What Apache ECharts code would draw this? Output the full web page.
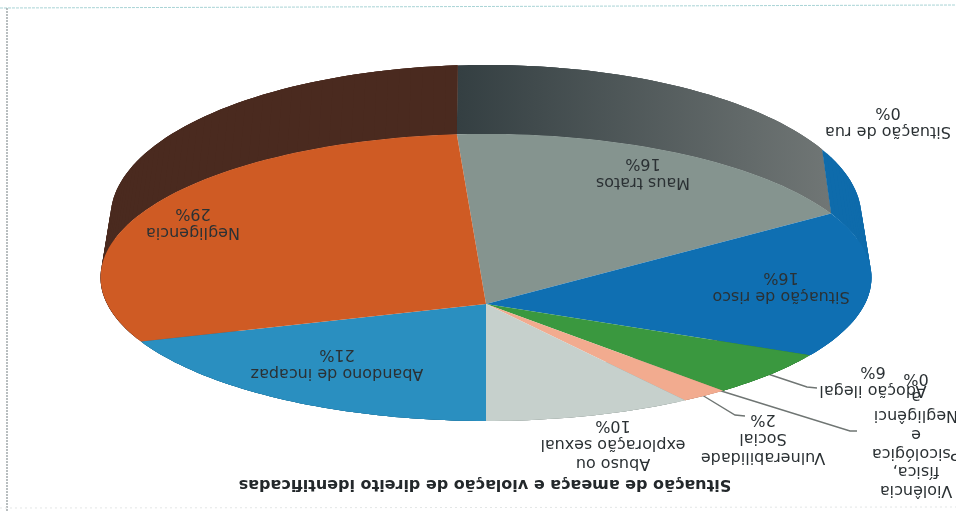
<!DOCTYPE html>
<html>
<head>
<meta charset="utf-8">
<style>
  html, body { margin: 0; padding: 0; background: #fff; }
  #main { width: 956px; height: 511px; filter: blur(0.4px); }
</style>
<script src="https://cdn.jsdelivr.net/npm/echarts@6/dist/echarts.min.js"></script>
</head>
<body>
<div id="main"></div>
<script>
// dados, na ordem em que as fatias aparecem
var categories = [
  'Maus tratos',
  'Situação de risco',
  'Adoção ilegal',
  'Violência física, Psicológica e Negligência',
  'Vulnerabilidade Social',
  'Abuso ou exploração sexual',
  'Abandono de incapaz',
  'Negligencia',
  'Situação de rua'
]
// tamanho das fatias estimado no desenho; os rotulos impressos ficam em percentLabels
var values = [16.1, 16.4, 6, 0, 2.2, 10.3, 20.4, 28.6, 0]
var percentLabels = ['16%', '16%', '6%', '0%', '2%', '10%', '21%', '29%', '0%']
var labelNames = [
  'Maus tratos',
  'Situação de risco',
  'Adoção ilegal',
  'Violência\nfísica,\nPsicológica\ne\nNegligênci\na',
  'Vulnerabilidade\nSocial',
  'Abuso ou\nexploração sexual',
  'Abandono de incapaz',
  'Negligencia',
  'Situação de rua'
]
var titleText = 'Situação de ameaça e violação de direito identificadas'

var topColors = ['#85948f', '#0f6fb2', '#3a983f', '#e8b49c', '#f2ab8f', '#c6d0cc', '#2a8fc0', '#cf5b24', '#85948f']
var wallColors = [null, '#0e6bab', '#2c7a32', '#c08c78', '#c08c78', '#9aa4a0', '#1f6f96', '#4a2a1f', '#444444']
var labelPos = [[643, 173], [781, 287], [873, 381], [916, 434], [763, 438], [613, 444], [337, 364], [193, 223], [888, 122]]

// projecao do disco: elipse com perspectiva, apice em (cx, cy)
var cx = 486, cy = 304, rx = 378.8, ry = 138.6, k = 0.185
var startDeg = -3.6
// borda de tras do disco (parede)
var wallY = 245.7, wallSx = 0.974, wallSy = 1.063

function project(deg) {
  var a = deg * Math.PI / 180
  var u = Math.sin(a), v = -Math.cos(a)
  var d = 1 + k * v
  return [cx + rx * u / d, cy + ry * v / d]
}
function wallPoint(p) {
  return [cx + (p[0] - cx) * wallSx, wallY + (p[1] - cy) * wallSy]
}
function arc(from, to) {
  var pts = []
  var n = Math.max(2, Math.ceil((to - from) / 1.5))
  for (var i = 0; i <= n; i++) {
    pts.push(project(from + (to - from) * i / n))
  }
  return pts
}

var total = values.reduce(function (s, v) { return s + v }, 0)
var sliceData = []
var acc = 0
values.forEach(function (v, i) {
  var from = startDeg + acc / total * 360
  acc += v
  sliceData.push([from, startDeg + acc / total * 360, i])
})

// gradiente da parede de Maus tratos, em coordenadas da tela
var greyWall = new echarts.graphic.LinearGradient(457, 0, 830, 0, [
  { offset: 0, color: '#343f42' },
  { offset: 1, color: '#707675' }
], true)

function renderWall(params, api) {
  var from = api.value(0), to = api.value(1), i = api.value(2)
  if (to - from <= 0) return null
  var lower = arc(from, to)
  var fill = wallColors[i] || greyWall
  // quadrilateros sobrepostos, assim a silhueta lateral fecha e nao ficam emendas
  var children = []
  for (var j = 0; j < lower.length - 1; j++) {
    var end = Math.min(j + 3, lower.length - 1)
    var strip = lower.slice(j, end + 1)
    children.push({
      type: 'polygon',
      shape: { points: strip.concat(strip.map(wallPoint).reverse()) },
      style: { fill: fill }
    })
  }
  return { type: 'group', children: children }
}
function renderTop(params, api) {
  var from = api.value(0), to = api.value(1), i = api.value(2)
  if (to - from <= 0) return null
  return {
    type: 'polygon',
    shape: { points: [[cx, cy]].concat(arc(from, to)) },
    style: { fill: topColors[i] }
  }
}
function renderLabel(params, api) {
  var i = api.value(2)
  return {
    type: 'text',
    x: labelPos[i][0],
    y: labelPos[i][1],
    rotation: Math.PI,
    style: {
      text: labelNames[i] + '\n' + percentLabels[i],
      align: 'center',
      verticalAlign: 'middle',
      fontFamily: 'DejaVu Sans',
      fontSize: 16,
      lineHeight: 18.7,
      fill: '#2b3134'
    }
  }
}

var leaderStyle = { stroke: '#6f7573', lineWidth: 1.4, fill: null }
var frameStyle = { stroke: '#8a9396', lineWidth: 1.2, lineDash: [2, 1], fill: null }

var option = {
  backgroundColor: '#fff',
  animation: false,
  graphic: [
    { type: 'polyline', shape: { points: [[0, 8], [956, 5]] }, style: { stroke: '#a9d4d6', lineWidth: 1, lineDash: [3, 1], fill: null } },
    { type: 'polyline', shape: { points: [[7, 8], [7, 511]] }, style: frameStyle },
    { type: 'polyline', shape: { points: [[0, 508], [956, 507]] }, style: { stroke: '#e3e6e6', lineWidth: 1, lineDash: [2, 3], fill: null } },
    { type: 'polyline', shape: { points: [[768, 374], [807, 387], [817, 388]] }, style: leaderStyle },
    { type: 'polyline', shape: { points: [[718, 390], [850, 431], [857, 431]] }, style: leaderStyle },
    { type: 'polyline', shape: { points: [[702, 395], [735, 415], [745, 416]] }, style: leaderStyle },
    {
      type: 'text',
      x: 485,
      y: 484,
      rotation: Math.PI,
      style: {
        text: titleText,
        align: 'center',
        verticalAlign: 'middle',
        fontFamily: 'DejaVu Sans',
        fontWeight: 'bold',
        fontSize: 16,
        fill: '#23282b'
      }
    }
  ],
  series: [
    { type: 'custom', coordinateSystem: 'none', data: sliceData, renderItem: renderWall, silent: true, z: 1 },
    { type: 'custom', coordinateSystem: 'none', data: sliceData, renderItem: renderTop, silent: true, z: 2 },
    { type: 'custom', coordinateSystem: 'none', data: sliceData, renderItem: renderLabel, silent: true, z: 3 }
  ]
}

var myChart = echarts.init(document.getElementById('main'))
myChart.setOption(option)
</script>
</body>
</html>
